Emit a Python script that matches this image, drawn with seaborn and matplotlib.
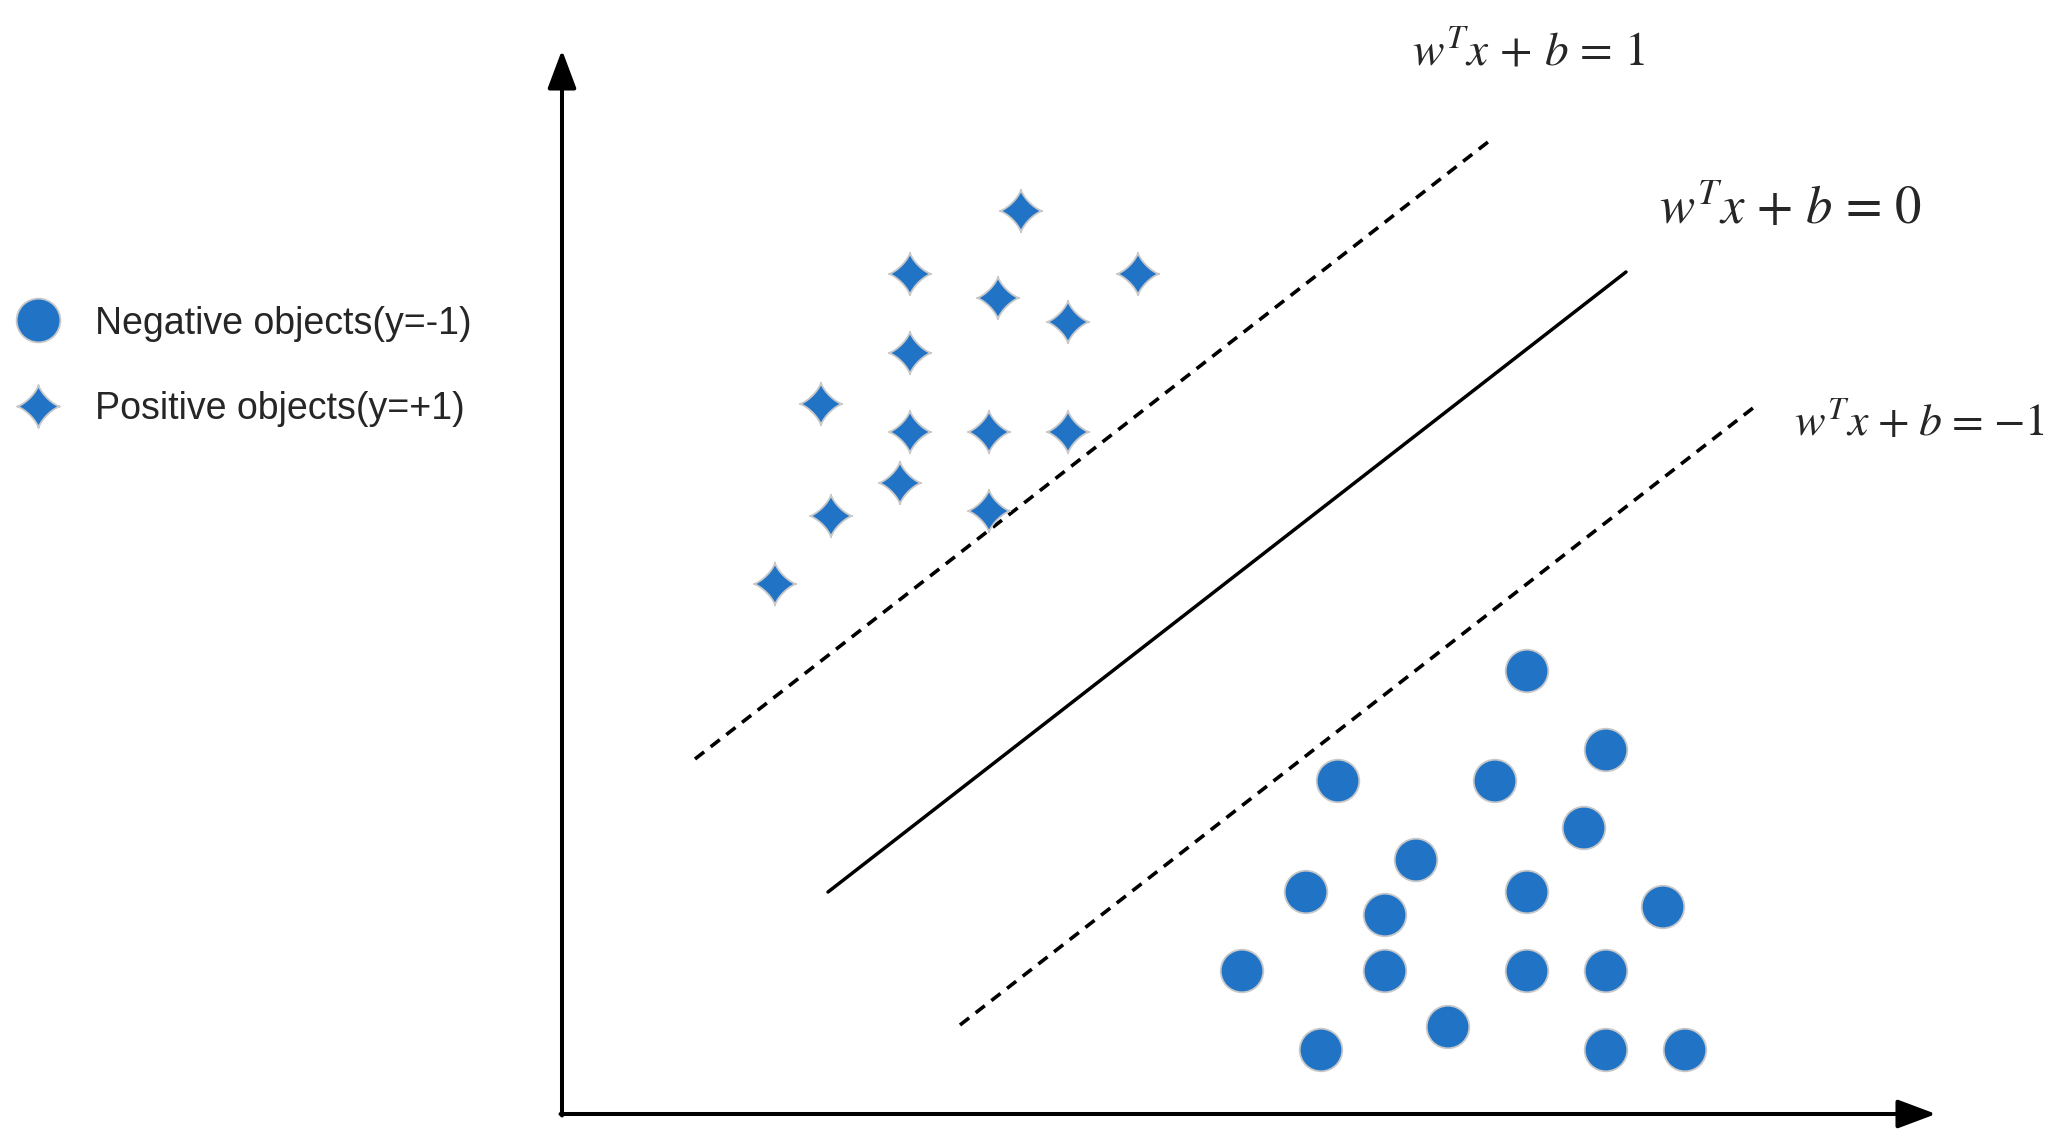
import numpy as np
import pandas as pd
import matplotlib
matplotlib.use("Agg")
import matplotlib.pyplot as plt
from matplotlib.path import Path
from matplotlib.lines import Line2D
import seaborn as sns

# --- data (origin = axis corner, 1 unit = 100 px) ---
pos_x = [4.59, 3.48, 5.76, 4.36, 5.06, 3.48, 2.59, 3.48, 4.27, 5.06, 3.38, 2.69, 4.27, 2.13]
pos_y = [9.03, 8.40, 8.40, 8.16, 7.92, 7.61, 7.10, 6.82, 6.82, 6.82, 6.31, 5.98, 6.03, 5.30]

neg_x = [9.65, 10.44, 7.76, 9.33, 10.22, 8.54, 7.44, 9.65, 8.23, 11.01,
         6.80, 8.23, 9.65, 10.44, 8.86, 7.59, 10.44, 11.23]
neg_y = [4.43, 3.64, 3.33, 3.33, 2.86, 2.54, 2.22, 2.22, 1.99, 2.07,
         1.43, 1.43, 1.43, 1.43, 0.87, 0.64, 0.64, 0.64]

# boundary lines: start and end points
line_x = {"plus": [1.33, 9.26], "zero": [2.66, 10.64], "minus": [3.98, 11.91]}
line_y = {"plus": [3.55, 9.72], "zero": [2.22, 8.42], "minus": [0.89, 7.06]}

eq_labels = [r"$w^{T}x\hspace{0.15}+\hspace{0.15}b\hspace{0.15}=\hspace{0.15}1$",
             r"$w^{T}x\hspace{0.14}+\hspace{0.14}b\hspace{0.14}=\hspace{0.14}0$",
             r"$w^{T}x\hspace{0.1}+\hspace{0.1}b\hspace{0.1}=\hspace{0.1}{-1}$"]
eq_x = [8.50, 10.97, 12.32]
eq_y = [10.48, 8.90, 6.79]
eq_size = [34, 38, 33]

legend_labels = ["Negative objects(y=-1)", "Positive objects(y=+1)"]

x_axis_len = 13.74
y_axis_len = 10.64

blue = "#2173C6"
edge = "#C8C8C8"

# 4 pointed star with concave sides
t = np.linspace(0, 2 * np.pi, 240)
p = 0.75
sx = np.sign(np.cos(t)) * np.abs(np.cos(t)) ** (2 / p)
sy = np.sign(np.sin(t)) * np.abs(np.sin(t)) ** (2 / p)
star = Path(np.column_stack([sx, sy]), closed=True)

df = pd.DataFrame({
    "x": neg_x + pos_x,
    "y": neg_y + pos_y,
    "kind": ["neg"] * len(neg_x) + ["pos"] * len(pos_x),
})

sns.set_style("white")
plt.rcParams["font.family"] = ["Liberation Sans", "DejaVu Sans"]
plt.rcParams["mathtext.fontset"] = "stix"

fig = plt.figure(figsize=(20.65, 11.44), dpi=100)
ax = fig.add_axes([0, 0, 1, 1])

sns.scatterplot(data=df, x="x", y="y", style="kind",
                markers={"neg": "o", "pos": star},
                color=blue, s=940, edgecolor=edge, linewidth=1.3,
                legend=False, ax=ax, zorder=3)

# margins + hyperplane
ax.plot(line_x["plus"], line_y["plus"], color="black", lw=2.6, dashes=(3.2, 2.3))
ax.plot(line_x["zero"], line_y["zero"], color="black", lw=2.5)
ax.plot(line_x["minus"], line_y["minus"], color="black", lw=2.6, dashes=(3.2, 2.3))

# axes arrows
arrow = dict(arrowstyle="-|>,head_length=0.4,head_width=0.15", mutation_scale=59,
             lw=2.9, color="black", shrinkA=0, shrinkB=0)
ax.annotate("", xy=(0, y_axis_len), xytext=(0, -0.015), arrowprops=arrow)
ax.annotate("", xy=(x_axis_len, 0), xytext=(-0.015, 0), arrowprops=arrow)

for lab, x, y, fs in zip(eq_labels, eq_x, eq_y, eq_size):
    ax.text(x, y, lab, fontsize=fs, ha="left", va="baseline")

handles = [
    Line2D([], [], ls="none", marker="o", markersize=31.5, markerfacecolor=blue,
           markeredgecolor=edge, markeredgewidth=1.3),
    Line2D([], [], ls="none", marker=star, markersize=31, markerfacecolor=blue,
           markeredgecolor=edge, markeredgewidth=1.3),
]
fig.legend(handles, legend_labels, loc="center left", bbox_to_anchor=(0.0075, 0.680),
           frameon=False, fontsize=27, handlelength=1.2, handletextpad=0.92,
           labelspacing=1.31, borderpad=0, borderaxespad=0)

ax.set_xlim(-5.62, 15.03)
ax.set_ylim(-0.30, 11.14)
ax.axis("off")

fig.savefig("out.png", dpi=100)
